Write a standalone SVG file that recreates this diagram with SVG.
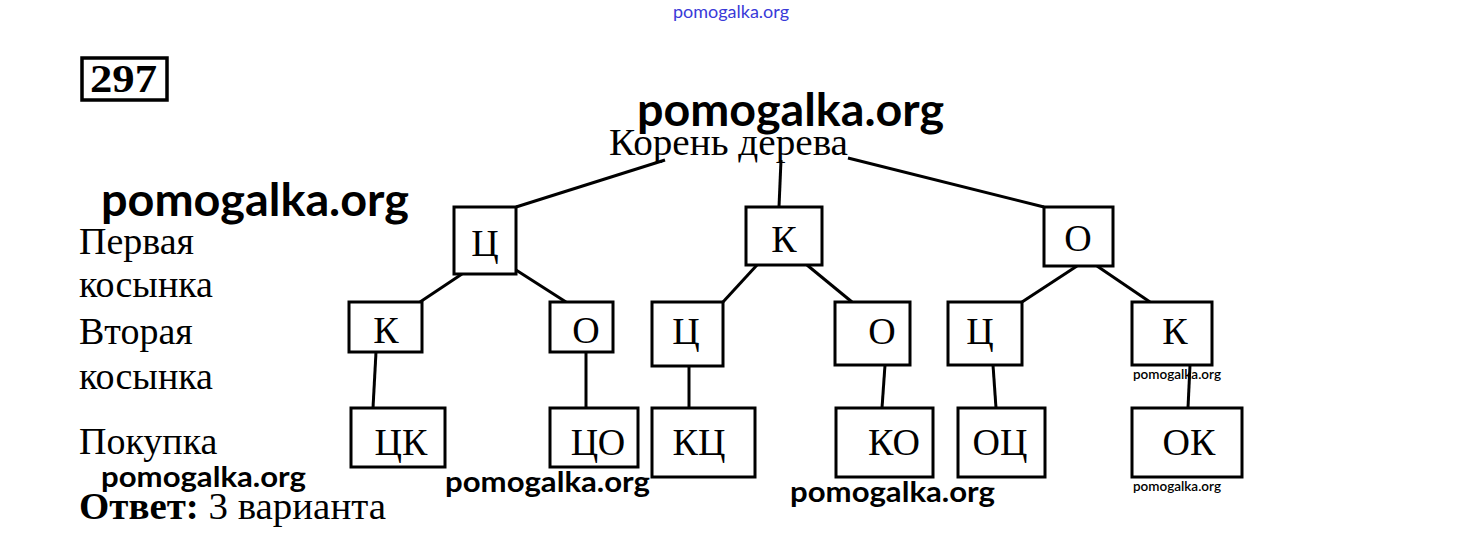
<svg xmlns="http://www.w3.org/2000/svg" width="1460" height="540" viewBox="0 0 1460 540">
<style>
.box{fill:#fff;stroke:#000;stroke-width:3}
.t{font-family:"Liberation Serif",serif;font-size:38px;fill:#000}
.c{text-anchor:middle}
.wm{font-family:Lato,"Open Sans",sans-serif;font-weight:bold;fill:#000}
.ln{stroke:#000;stroke-width:3;fill:none}
</style>
<rect width="1460" height="540" fill="#fff"/>
<text x="731" y="18" class="c" style="font-family:Lato,sans-serif;font-size:18px;fill:#3a3ad8">pomogalka.org</text>
<g id="num"><rect x="82" y="58" width="85" height="42" fill="#fff" stroke="#000" stroke-width="3.5"/><text x="90" y="92" textLength="67" lengthAdjust="spacingAndGlyphs" style="font-family:'Liberation Serif',serif;font-weight:bold;font-size:40px">297</text></g>
<text x="637" y="126" textLength="307" lengthAdjust="spacingAndGlyphs" class="wm" style="font-size:45px">pomogalka.org</text>
<g id="root"><text x="609" y="155" textLength="239" lengthAdjust="spacingAndGlyphs" class="t">Корень дерева</text></g>
<text x="101" y="216" textLength="308" lengthAdjust="spacingAndGlyphs" class="wm" style="font-size:45px">pomogalka.org</text>
<g id="labels">
<text x="79" y="254" class="t">Первая</text>
<text x="79" y="297" class="t">косынка</text>
<text x="79" y="344" class="t">Вторая</text>
<text x="79" y="389" class="t">косынка</text>
<text x="79" y="454" class="t">Покупка</text>
<text x="79" y="519" textLength="307" lengthAdjust="spacingAndGlyphs" class="t"><tspan font-weight="bold">Ответ:</tspan> 3 варианта</text>
</g>
<g id="connectors">
<line class="ln" x1="665" y1="160" x2="516" y2="207"/>
<line class="ln" x1="781" y1="160" x2="779" y2="207"/>
<line class="ln" x1="848" y1="158" x2="1044" y2="207"/>
<line class="ln" x1="462" y1="274" x2="420" y2="302"/>
<line class="ln" x1="516" y1="270" x2="566" y2="302"/>
<line class="ln" x1="757" y1="265" x2="723" y2="302"/>
<line class="ln" x1="807" y1="265" x2="852" y2="302"/>
<line class="ln" x1="1077" y1="266" x2="1022" y2="302"/>
<line class="ln" x1="1097" y1="266" x2="1150" y2="302"/>
<line class="ln" x1="376" y1="352" x2="373" y2="408"/>
<line class="ln" x1="586" y1="352" x2="586" y2="408"/>
<line class="ln" x1="689" y1="366" x2="689" y2="408"/>
<line class="ln" x1="885" y1="365" x2="882" y2="408"/>
<line class="ln" x1="993" y1="365" x2="996" y2="408"/>
<line class="ln" x1="1190" y1="365" x2="1188" y2="408"/>
</g>
<g id="n1"><rect class="box" x="454" y="207" width="62" height="67"/><text x="485" y="256" class="t c">Ц</text></g>
<g id="n2"><rect class="box" x="746" y="207" width="76" height="58"/><text x="784" y="252" class="t c">К</text></g>
<g id="n3"><rect class="box" x="1044" y="207" width="69" height="59"/><text x="1078" y="251" class="t c">О</text></g>
<g id="n4"><rect class="box" x="349" y="302" width="73" height="50"/><text x="386" y="343" class="t c">К</text></g>
<g id="n5"><rect class="box" x="550" y="302" width="63" height="50"/><text x="586" y="343" class="t c">О</text></g>
<g id="n6"><rect class="box" x="652" y="302" width="71" height="64"/><text x="686" y="344" class="t c">Ц</text></g>
<g id="n7"><rect class="box" x="835" y="302" width="75" height="63"/><text x="882" y="344" class="t c">О</text></g>
<g id="n8"><rect class="box" x="948" y="302" width="74" height="63"/><text x="980" y="344" class="t c">Ц</text></g>
<g id="n9"><rect class="box" x="1132" y="302" width="80" height="63"/><text x="1175" y="344" class="t c">К</text></g>
<g id="n10"><rect class="box" x="351" y="408" width="94" height="59"/><text x="401" y="455" class="t c">ЦК</text></g>
<g id="n11"><rect class="box" x="550" y="408" width="88" height="59"/><text x="598" y="455" class="t c">ЦО</text></g>
<g id="n12"><rect class="box" x="652" y="408" width="103" height="69"/><text x="699" y="455" class="t c">КЦ</text></g>
<g id="n13"><rect class="box" x="836" y="408" width="97" height="69"/><text x="894" y="455" class="t c">КО</text></g>
<g id="n14"><rect class="box" x="958" y="408" width="87" height="69"/><text x="1000" y="455" class="t c">ОЦ</text></g>
<g id="n15"><rect class="box" x="1132" y="408" width="110" height="69"/><text x="1189" y="455" class="t c">ОК</text></g>
<text x="101" y="487" textLength="205" lengthAdjust="spacingAndGlyphs" class="wm" style="font-size:29px">pomogalka.org</text>
<text x="445" y="492" textLength="205" lengthAdjust="spacingAndGlyphs" class="wm" style="font-size:29px">pomogalka.org</text>
<text x="790" y="502" textLength="205" lengthAdjust="spacingAndGlyphs" class="wm" style="font-size:29px">pomogalka.org</text>
<text x="1133" y="379" textLength="88" lengthAdjust="spacingAndGlyphs" class="wm" style="font-size:13px;font-weight:600">pomogalka.org</text>
<text x="1133" y="491" textLength="88" lengthAdjust="spacingAndGlyphs" class="wm" style="font-size:13px;font-weight:600">pomogalka.org</text>
</svg>
